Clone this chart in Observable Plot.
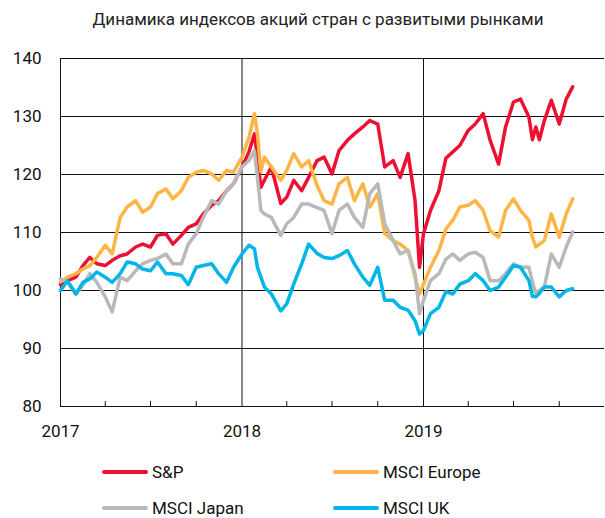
<!DOCTYPE html>
<html><head><meta charset="utf-8">
<script src="https://cdn.jsdelivr.net/npm/d3@7"></script>
<script src="https://cdn.jsdelivr.net/npm/@observablehq/plot@0.6"></script>
<style>
body{margin:0;background:#fff;font-family:Roboto,"Liberation Sans",sans-serif;}
#wrap{position:relative;width:605px;height:518px;overflow:hidden;}
#title{position:absolute;top:9px;left:0;width:636px;text-align:center;font-size:17px;color:#222;white-space:nowrap;}
#chart{position:absolute;top:40px;left:0;}
.ll{position:absolute;height:4px;border-radius:2px;}
.lt{position:absolute;font-size:17px;line-height:20px;color:#111;white-space:nowrap;}
</style></head>
<body><div id="wrap">
<div id="title">Динамика индексов акций стран с развитыми рынками</div>
<div id="chart"></div>
<div id="legend"></div>
</div>
<script>
const dates = ["2017-01-01","2017-01-15","2017-02-01","2017-02-15","2017-03-01","2017-03-15","2017-04-01","2017-04-15","2017-05-01","2017-05-15","2017-06-01","2017-06-15","2017-07-01","2017-07-15","2017-08-01","2017-08-15","2017-09-01","2017-09-15","2017-10-01","2017-10-15","2017-11-01","2017-11-15","2017-12-01","2017-12-15","2018-01-01","2018-01-15","2018-01-26","2018-02-01","2018-02-08","2018-02-15","2018-03-01","2018-03-20","2018-04-01","2018-04-15","2018-05-01","2018-05-15","2018-06-01","2018-06-15","2018-07-01","2018-07-15","2018-08-01","2018-08-15","2018-09-01","2018-09-15","2018-10-01","2018-10-15","2018-11-01","2018-11-15","2018-12-01","2018-12-15","2018-12-24","2019-01-01","2019-01-15","2019-02-01","2019-02-15","2019-03-01","2019-03-15","2019-04-01","2019-04-15","2019-05-01","2019-05-15","2019-06-01","2019-06-15","2019-07-01","2019-07-15","2019-08-01","2019-08-08","2019-08-15","2019-08-22","2019-09-01","2019-09-15","2019-10-01","2019-10-15","2019-10-28"];
const sp = [101,101.7,102.3,104.3,105.7,104.6,104.3,105.2,106,106.3,107.5,108,107.5,109.5,109.8,108,109.5,110.9,111.5,113.2,114.7,115.5,117.2,118.4,121.3,123.9,127,123,117.8,119,121.3,115,116.1,119,117.2,119.5,122.4,123,120.1,124.1,125.9,127,128.2,129.3,128.7,121.3,122.4,119.5,123.6,115.5,104,109.8,113.8,117.2,122.8,123.9,125,127.6,128.7,130.5,125.9,121.8,128.2,132.5,133,129.9,126,128.2,126,129.3,132.8,128.7,133,135.1];
const europe = [101.5,102.3,102.9,103.7,104.3,105.7,107.8,106.3,112.6,114.4,115.5,113.5,114.4,116.7,117.5,115.8,117.2,119.5,120.4,120.7,120.1,119,120.7,120.4,123,126.4,130.5,127,120.5,123,121.3,119,120.7,123.6,121.3,122.4,118.1,115.5,114.9,118.4,119.5,115.5,118.4,114.4,116.7,109.8,108.6,108,106.9,102.3,99.4,101.1,104,106.9,110.6,112.1,114.4,114.7,115.5,113.8,110.3,109.2,113.8,115.8,113.8,112.1,109.2,107.5,108,108.6,113.2,109.2,113.2,115.8];
const japan = [102,101.4,99.4,100.9,102.9,101.4,98.9,96.3,102.3,101.7,103.4,104.6,105.2,105.5,106.3,104.6,104.6,108,109.8,112.6,115.5,114.9,117.2,118.4,121.3,122.4,124.1,119.5,113.8,113.2,112.6,109.5,111.5,112.6,114.9,114.9,114.3,113.8,109.8,113.8,114.9,112.6,110.9,116.7,118.4,111.5,108.6,106.3,106.9,102.9,96,98.3,101.7,102.9,105.4,106.3,105.2,106.3,106.6,105.7,101.7,101.7,102.9,104.6,104,104,101.5,99.4,100,100.6,106.3,104,107.5,110.1];
const uk = [100,101.7,99.4,101.4,102,103.2,102.3,101.4,102.9,104.9,104.6,103.7,103.4,104.9,102.9,102.9,102.6,101,104,104.3,104.6,102.9,101.4,104,106.3,107.8,107.2,104,102.3,100.6,99.4,96.5,97.7,101.1,104.6,108,106.4,105.7,105.5,106,106.9,104.6,102.3,100.9,104,98.3,98.3,97.1,96.6,94.8,92.5,93.1,96,97.1,99.8,99.4,101.1,101.7,102.9,101.7,100,100.6,102.3,104.3,104,101.7,99,98.9,99.5,100.6,100.6,98.9,100,100.3];
const seriesNames = ["S&P","MSCI Europe","MSCI Japan","MSCI UK"];
const seriesColors = ["#EC1133","#FFB545","#B9B9B9","#00B5E8"];
const yTicks = [80,90,100,110,120,130,140];
const yearTicks = ["2017-01-01","2018-01-01","2019-01-01"];
const quarterTicks = ["2017-04-01","2017-07-01","2017-10-01","2018-04-01","2018-07-01","2018-10-01","2019-04-01","2019-07-01","2019-10-01"];

const all = [sp, europe, japan, uk];
const data = [];
all.forEach((vals, s) => vals.forEach((v, i) => data.push({date: new Date(dates[i]), value: v, series: seriesNames[s]})));
const years = yearTicks.map(d => new Date(d));
const quarters = quarterTicks.map(d => new Date(d));
const font = 'Roboto,"Liberation Sans",sans-serif';

const chart = Plot.plot({
  width: 605, height: 410,
  marginLeft: 60, marginRight: 1, marginTop: 18, marginBottom: 44,
  x: {type: "utc", domain: [new Date("2017-01-01"), new Date("2019-12-31")], label: null},
  y: {domain: [80, 140], label: null},
  color: {domain: seriesNames, range: seriesColors},
  style: {fontFamily: font, fontSize: "17px", color: "#111", background: "#fff"},
  marks: [
    Plot.ruleY(yTicks, {stroke: "#111", strokeWidth: 1}),
    Plot.ruleX(years, {stroke: "#111", strokeWidth: 1}),
    Plot.ruleX(quarters, {stroke: "#111", strokeWidth: 1, insetTop: 343}),
    Plot.lineY(data, {x: "date", y: "value", z: "series", stroke: "series", strokeWidth: 3.5, strokeLinejoin: "round"}),
    Plot.axisY({ticks: yTicks, tickSize: 0, tickPadding: 19, fontSize: 17, label: null}),
    Plot.axisX({ticks: years, tickSize: 0, tickPadding: 18, tickFormat: d3.utcFormat("%Y"), fontSize: 17, label: null})
  ]
});
document.getElementById("chart").appendChild(chart);

const legend = document.getElementById("legend");
const pos = [[102, 472], [333, 472], [102, 508], [333, 508]];
seriesNames.forEach((name, i) => {
  const [x, y] = pos[i];
  const l = document.createElement("div");
  l.className = "ll"; l.style.left = x + "px"; l.style.top = (y - 2) + "px"; l.style.width = "46px"; l.style.background = seriesColors[i];
  const t = document.createElement("div");
  t.className = "lt"; t.style.left = (x + 50) + "px"; t.style.top = (y - 10) + "px"; t.textContent = name;
  legend.appendChild(l); legend.appendChild(t);
});
</script>
</body></html>
